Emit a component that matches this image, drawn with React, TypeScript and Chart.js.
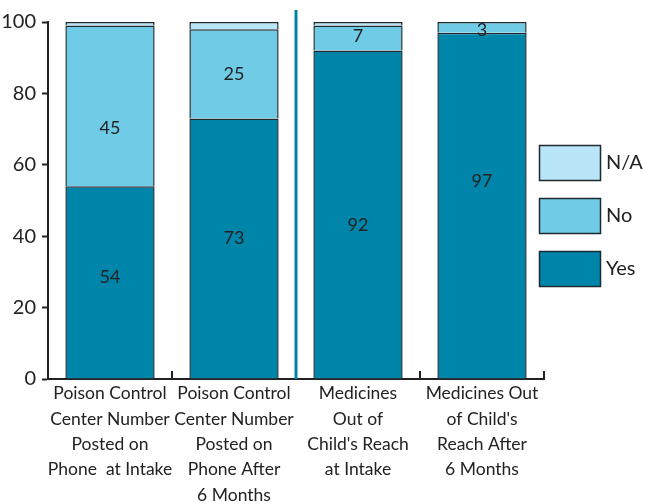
import React, { useEffect, useRef } from "react";
import { Chart, registerables } from "chart.js";

Chart.register(...registerables);

const categories: string[][] = [
  ["Poison Control", "Center Number", "Posted on", "Phone  at Intake"],
  ["Poison Control", "Center Number", "Posted on", "Phone After", "6 Months"],
  ["Medicines", "Out of", "Child's Reach", "at Intake"],
  ["Medicines Out", "of Child's", "Reach After", "6 Months"],
];
const yesValues = [54, 73, 92, 97];
const noValues = [45, 25, 7, 3];
const naValues = [1, 2, 1, 0];
const yTicks = [0, 20, 40, 60, 80, 100];
// where the value labels sit (in axis units), as placed in the original
const yesLabelAt = [28.5, 39.5, 43, 55.5];
const noLabelAt = [70.3, 85.4, 96, 97.7];

const COLORS = { yes: "#0085AA", no: "#6FCBE6", na: "#B8E6F8", border: "#1E2A30" };
const FONT = "Lato";

export default function App() {
  const ref = useRef<HTMLCanvasElement>(null);
  useEffect(() => {
    const canvas = ref.current!;
    const overlay = {
      id: "overlay",
      afterDatasetsDraw(chart: any) {
        const ctx = chart.ctx;
        const x = chart.scales.x;
        const y = chart.scales.y;
        ctx.save();
        ctx.font = `18px ${FONT}`;
        ctx.fillStyle = "#222";
        ctx.textAlign = "center";
        ctx.textBaseline = "middle";
        const anchors = [yesLabelAt, noLabelAt];
        [0, 1].forEach((di) => {
          const meta = chart.getDatasetMeta(di);
          meta.data.forEach((el: any, i: number) => {
            const v = chart.data.datasets[di].data[i];
            ctx.fillText(String(v), el.x, y.getPixelForValue(anchors[di][i]));
          });
        });
        const sx = (x.getPixelForValue(1) + x.getPixelForValue(2)) / 2;
        ctx.strokeStyle = COLORS.yes;
        ctx.lineWidth = 3;
        ctx.beginPath();
        ctx.moveTo(sx, 10);
        ctx.lineTo(sx, y.bottom);
        ctx.stroke();
        ctx.strokeStyle = "#222";
        ctx.lineWidth = 2;
        const n = chart.data.labels.length;
        for (let i = 0; i <= n; i++) {
          if (i === 2) continue;
          const px = i === 0 ? x.left : i === n ? x.right : (x.getPixelForValue(i - 1) + x.getPixelForValue(i)) / 2;
          ctx.beginPath();
          ctx.moveTo(px, y.bottom);
          ctx.lineTo(px, y.bottom - 8);
          ctx.stroke();
        }
        const items = [
          { label: "N/A", color: COLORS.na, top: 145 },
          { label: "No", color: COLORS.no, top: 198 },
          { label: "Yes", color: COLORS.yes, top: 251 },
        ];
        ctx.font = `20px ${FONT}`;
        ctx.textAlign = "left";
        items.forEach((it) => {
          ctx.fillStyle = it.color;
          ctx.fillRect(539, it.top, 61, 35);
          ctx.strokeStyle = COLORS.border;
          ctx.lineWidth = 1.5;
          ctx.strokeRect(539.5, it.top + 0.5, 61, 35);
          ctx.fillStyle = "#222";
          ctx.fillText(it.label, 606, it.top + 18);
        });
        ctx.restore();
      },
    };
    const chart = new Chart(canvas, {
      type: "bar",
      data: {
        labels: categories,
        datasets: [
          { label: "Yes", data: yesValues, backgroundColor: COLORS.yes, borderColor: COLORS.border, borderWidth: 1.5 },
          { label: "No", data: noValues, backgroundColor: COLORS.no, borderColor: COLORS.border, borderWidth: 1.5 },
          { label: "N/A", data: naValues, backgroundColor: COLORS.na, borderColor: COLORS.border, borderWidth: 1.5 },
        ],
      },
      options: {
        responsive: false,
        animation: false,
        layout: { padding: { top: 22, right: 101, left: 0, bottom: 0 } },
        plugins: { legend: { display: false }, tooltip: { enabled: false } },
        scales: {
          x: {
            stacked: true,
            categoryPercentage: 1,
            barPercentage: 0.71,
            grid: { display: false },
            border: { display: true, color: "#222", width: 2 },
            ticks: { color: "#222", font: { family: FONT, size: 17.5, lineHeight: 1.45 }, maxRotation: 0, autoSkip: false, padding: -6 },
            afterFit: (s: any) => { s.height = 125; },
          },
          y: {
            stacked: true,
            min: 0,
            max: 100,
            afterBuildTicks: (s: any) => { s.ticks = yTicks.map((v) => ({ value: v })); },
            grid: { display: true, drawOnChartArea: false, drawTicks: true, tickLength: 6, tickColor: "#222", tickWidth: 2 },
            border: { display: true, color: "#222", width: 2 },
            ticks: { color: "#222", font: { family: FONT, size: 20 }, padding: 6 },
            afterFit: (s: any) => { s.width = 48; },
          },
        },
      },
      plugins: [overlay],
    } as any);
    return () => chart.destroy();
  }, []);
  return (
    <div style={{ position: "absolute", left: 0, top: 0, width: 645, height: 504 }}>
      <canvas ref={ref} width={645} height={504} />
    </div>
  );
}
